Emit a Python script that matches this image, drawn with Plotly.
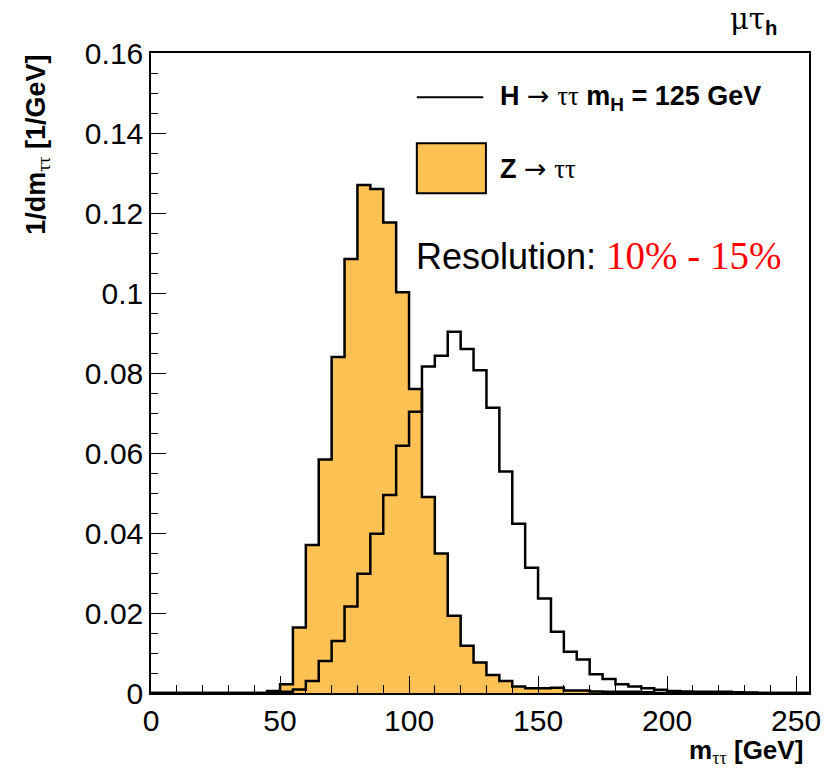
import plotly.graph_objects as go

# ---- data (bin width 5 GeV, left edges from 0) ----
bin_width = 5
n_bins = 51
z_values = [0]*9 + [
    0.0005, 0.0022, 0.0164, 0.037, 0.0584, 0.084, 0.1085, 0.127, 0.126, 0.1176,
    0.1002, 0.076, 0.049, 0.0349, 0.0193, 0.0118, 0.0076, 0.0045, 0.003, 0.0016,
    0.0012, 0.0012, 0.0013, 0.0006, 0.0006, 0.0004, 0.0003, 0.0003, 0.0003, 0.0002,
]
h_values = [0]*9 + [
    0.0002, 0.0003, 0.0009, 0.003, 0.008, 0.013, 0.0216, 0.0298, 0.0398, 0.0495,
    0.0618, 0.0703, 0.0816, 0.0843, 0.0903, 0.086, 0.0807, 0.0713, 0.0554, 0.0423,
    0.0313, 0.0236, 0.0153, 0.0103, 0.0084, 0.0047, 0.0035, 0.0022, 0.0016, 0.0012,
    0.0008, 0.0005, 0.0004, 0.0003, 0.0003, 0.0003, 0.0002, 0.0001,
]
z_values += [0]*(n_bins - len(z_values))
h_values += [0]*(n_bins - len(h_values))

y_tickvals = [0, 0.02, 0.04, 0.06, 0.08, 0.10, 0.12, 0.14, 0.16]
y_ticktext = ["0", "0.02", "0.04", "0.06", "0.08", "0.1", "0.12", "0.14", "0.16"]
x_tickvals = [0, 50, 100, 150, 200, 250]

edges = [i*bin_width for i in range(n_bins + 1)]

def step(vals):
    return edges, list(vals) + [vals[-1]]

ORANGE = "#FEC154"
SANS = "Liberation Sans, Arial, sans-serif"

fig = go.Figure()
zx, zy = step(z_values)
fig.add_trace(go.Scatter(x=zx, y=zy, mode="lines", line=dict(shape="hv", color="black", width=2.5),
                         fill="tozeroy", fillcolor=ORANGE, showlegend=False, hoverinfo="skip"))
hx, hy = step(h_values)
fig.add_trace(go.Scatter(x=hx, y=hy, mode="lines", line=dict(shape="hv", color="black", width=2.5),
                         showlegend=False, hoverinfo="skip"))

fig.update_layout(
    width=832, height=768,
    margin=dict(l=151, r=23, t=53, b=75),
    paper_bgcolor="white", plot_bgcolor="white",
    font=dict(family=SANS, color="black"),
    xaxis=dict(range=[0, 255], showgrid=False, zeroline=False, showline=True, linecolor="black",
               linewidth=1.5, mirror=True, ticks="inside", ticklen=17, tickcolor="black", tickwidth=1.2,
               tickvals=x_tickvals, tickfont=dict(size=30, family=SANS),
               minor=dict(ticks="inside", ticklen=8, dtick=10, tickcolor="black", tickwidth=1.2)),
    yaxis=dict(range=[0, 0.16], showgrid=False, zeroline=False, showline=True, linecolor="black",
               linewidth=1.5, mirror=True, ticks="inside", ticklen=15, tickcolor="black", tickwidth=1.2,
               tickvals=y_tickvals, ticktext=y_ticktext, tickfont=dict(size=30, family=SANS),
               minor=dict(ticks="inside", ticklen=7, dtick=0.005, tickcolor="black", tickwidth=1.2)),
)

tau = '<span style="font-family:Liberation Serif;font-weight:normal">ττ</span>'
arrow = '<span style="font-family:DejaVu Sans;font-weight:normal">→</span>'

# legend (drawn manually)
fig.add_shape(type="line", xref="paper", yref="paper", x0=0.404, x1=0.505, y0=0.931, y1=0.931,
              line=dict(color="black", width=2))
fig.add_shape(type="rect", xref="paper", yref="paper", x0=0.404, x1=0.509, y0=0.781, y1=0.859,
              fillcolor=ORANGE, line=dict(color="black", width=2))
fig.add_annotation(xref="paper", yref="paper", x=0.528, y=0.931, xanchor="left", yanchor="middle",
                   text=f"<b>H {arrow} {tau} m<sub>H</sub> = 125 GeV</b>", showarrow=False,
                   font=dict(size=27, family=SANS))
fig.add_annotation(xref="paper", yref="paper", x=0.528, y=0.820, xanchor="left", yanchor="middle",
                   text=f"<b>Z {arrow} {tau}</b>", showarrow=False, font=dict(size=27, family=SANS))
fig.add_annotation(xref="paper", yref="paper", x=0.400, y=0.684, xanchor="left", yanchor="middle",
                   text='Resolution: <span style="font-family:Liberation Serif;color:red;font-size:39px">10% - 15%</span>',
                   showarrow=False, font=dict(size=36, family=SANS))

# top-right label
fig.add_annotation(xref="paper", yref="paper", x=0.915, y=1.05, xanchor="center", yanchor="middle",
                   text='<span style="font-family:DejaVu Serif">μτ</span><sub><b>h</b></sub>',
                   showarrow=False, font=dict(size=29, family=SANS))

# axis titles
fig.add_annotation(xref="paper", yref="paper", x=0.993, y=-0.118, xanchor="right", yanchor="bottom",
                   text=f"<b>m<sub>{tau}</sub> [GeV]</b>", showarrow=False, borderpad=0,
                   font=dict(size=26, family=SANS))
fig.add_annotation(xref="paper", yref="paper", x=-0.172, y=1.0, xanchor="center", yanchor="top",
                   textangle=-90, text=f"<b>1/dm<sub>{tau}</sub> [1/GeV]</b>", showarrow=False,
                   font=dict(size=27, family=SANS))

fig.write_html("out.html")
